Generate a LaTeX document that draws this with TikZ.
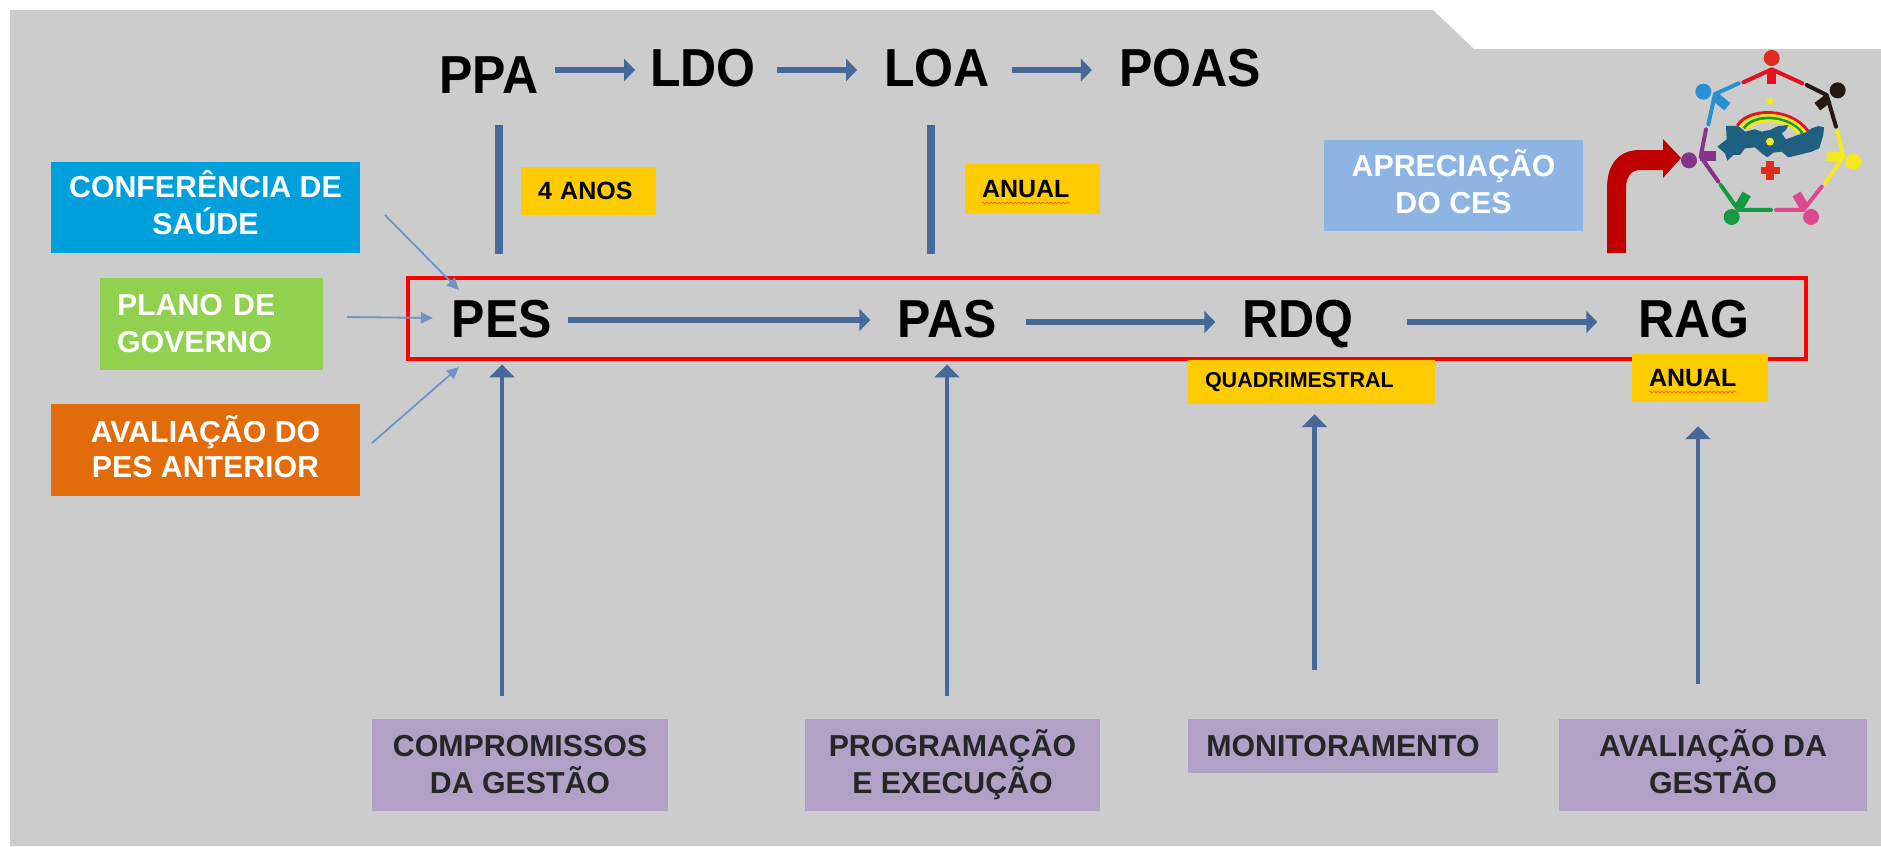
\documentclass[tikz,border=0pt]{standalone}
\usepackage{fontspec}
\usepackage{graphicx}
\setmainfont{Liberation Sans}
\usetikzlibrary{arrows.meta,shapes.geometric,decorations.pathmorphing}
\definecolor{bg}{HTML}{CCCCCC}
\definecolor{cblue}{HTML}{00A0DC}
\definecolor{cgreen}{HTML}{92D050}
\definecolor{corange}{HTML}{E36C0A}
\definecolor{cyellow}{HTML}{FFCC00}
\definecolor{cpurple}{HTML}{B2A1C7}
\definecolor{csky}{HTML}{8EB4E3}
\definecolor{flowc}{HTML}{46699A}
\definecolor{lightc}{HTML}{6F95C6}
\definecolor{dred}{HTML}{C00000}
\definecolor{mapc}{HTML}{1F5F7F}
\definecolor{lred}{HTML}{E8101F}
\definecolor{lheadred}{HTML}{E02B20}
\definecolor{lblack}{HTML}{231815}
\definecolor{lyellow}{HTML}{F5E81F}
\definecolor{lpink}{HTML}{DB4A8C}
\definecolor{lgreen}{HTML}{159A43}
\definecolor{lpurple}{HTML}{863488}
\definecolor{lblue}{HTML}{2A90D6}
\newcommand{\fsz}[1]{\fontsize{#1}{#1}\selectfont}
\newcommand{\boxfont}{\bfseries\fontsize{30.3}{37}\selectfont}
\newcommand{\boxfonttight}{\bfseries\fontsize{30.3}{35}\selectfont}
\newcommand{\tall}[1]{\scalebox{1}[1.07]{#1}}
\tikzset{
  x=1pt,y=-1pt,
  box/.style={draw=none,inner sep=0,align=center,font=\boxfont},
  whitebox/.style={box,text=white},
  sourcebox/.style={box,fill=cpurple,text=black!85},
  tagbox/.style={inner sep=0,fill=cyellow,text=black,align=left,font=\bfseries\fsz{25}},
  doc/.style={inner sep=0,text=black,font=\bfseries\fsz{50},text height=38.5pt,text depth=0pt},
  flow/.style={draw=flowc,line width=6pt,-{Triangle[length=11pt,width=22pt]}},
  upflow/.style={draw=flowc,line width=4.5pt,-{Triangle[length=13pt,width=25pt]}},
  link/.style={draw=flowc,line width=7.5pt},
  lightflow/.style={draw=lightc,line width=1.8pt,-{Triangle[length=12pt,width=11pt]}},
  limb/.style={line width=4pt,line cap=round,line join=round},
  trunk/.style={line width=9.5pt},
  squiggle/.style={red!70!orange,line width=.9pt,opacity=.6,decorate,decoration={snake,amplitude=.8pt,segment length=4pt}},
}
\begin{document}
\begin{tikzpicture}
\useasboundingbox (0,0) rectangle (1881,846);
\fill[white] (0,0) rectangle (1881,846);
\fill[bg] (10,10) -- (1433,10) -- (1474,49) -- (1881,49) -- (1881,846) -- (10,846) -- cycle;

% input boxes
\node[whitebox,fill=cblue,minimum width=309pt,minimum height=91pt,text depth=10pt] (conf) at (205.5,207.5) {CONFERÊNCIA DE\\SAÚDE};
\node[whitebox,fill=cgreen,minimum width=223pt,minimum height=92pt,align=left,text width=189pt] (plano) at (211.5,324) {PLANO DE\\GOVERNO};
\node[whitebox,fill=corange,minimum width=309pt,minimum height=92pt,font=\boxfonttight,text depth=6pt] (aval) at (205.5,450) {AVALIAÇÃO DO\\PES ANTERIOR};
\node[whitebox,fill=csky,minimum width=259pt,minimum height=91pt,text depth=8pt] (ces) at (1453.5,185.5) {APRECIAÇÃO\\DO CES};

% top row
\node[doc] (ppa) at (489,74) {\tall{PPA}};
\node[doc] (ldo) at (703,67) {\tall{LDO}};
\node[doc] (loa) at (937,67) {\tall{LOA}};
\node[doc] (poas) at (1190,67) {\tall{POAS}};
% main row
\node[doc] (pes) at (502,318) {\tall{PES}};
\node[doc] (pas) at (947,318) {\tall{PAS}};
\node[doc] (rdq) at (1298,318) {\tall{RDQ}};
\node[doc] (rag) at (1694,318) {\tall{RAG}};
\node[draw=red,line width=3.6pt,minimum width=1398pt,minimum height=81pt,inner sep=0] (frame) at (1107,318.5) {};

% tags
\node[tagbox,minimum width=135pt,minimum height=48pt,text width=101pt] (t4) at (588.5,191) {4 ANOS};
\node[tagbox,minimum width=135pt,minimum height=50pt,text width=101pt] (tan) at (1032.5,189) {ANUAL};
\node[tagbox,minimum width=247pt,minimum height=44pt,text width=213pt,font=\bfseries\fsz{21.5}] (tq) at (1311.5,382) {QUADRIMESTRAL};
\node[tagbox,minimum width=136pt,minimum height=48pt,text width=102pt] (tag) at (1700,378) {ANUAL};
\draw[squiggle] ([xshift=17pt,yshift=-14pt]tan.west) -- ([xshift=105pt,yshift=-14pt]tan.west);
\draw[squiggle] ([xshift=17pt,yshift=-14pt]tag.west) -- ([xshift=105pt,yshift=-14pt]tag.west);

% source boxes
\node[sourcebox,minimum width=296pt,minimum height=92pt,text depth=2pt] (comp) at (520,765) {COMPROMISSOS\\DA GESTÃO};
\node[sourcebox,minimum width=295pt,minimum height=92pt] (prog) at (952.5,765) {PROGRAMAÇÃO\\E EXECUÇÃO};
\node[sourcebox,minimum width=310pt,minimum height=54pt] (mon) at (1343,746) {MONITORAMENTO};
\node[sourcebox,minimum width=308pt,minimum height=92pt,text depth=7pt] (avg) at (1713,765) {AVALIAÇÃO DA\\GESTÃO};

% connectors, top row
\draw[flow,shorten <=16pt,shorten >=15pt] ([yshift=4pt]ppa.east) -- ([yshift=-3pt]ldo.west);
\draw[flow,shorten <=21pt,shorten >=27pt] ([yshift=-3pt]ldo.east) -- ([yshift=-3pt]loa.west);
\draw[flow,shorten <=22pt,shorten >=27pt] ([yshift=-3pt]loa.east) -- ([yshift=-3pt]poas.west);
% connectors, main row
\draw[flow,shorten <=16pt,shorten >=27pt] ([yshift=-2pt]pes.east) -- ([yshift=-2pt]pas.west);
\draw[flow,shorten <=29pt,shorten >=27pt] ([yshift=-4pt]pas.east) -- ([yshift=-4pt]rdq.west);
\draw[flow,shorten <=53pt,shorten >=41pt] ([yshift=-4pt]rdq.east) -- ([yshift=-4pt]rag.west);
% vertical links
\coordinate (lnk1a) at (499,125); \coordinate (lnk1b) at (499,254);
\coordinate (lnk2a) at (931,125); \coordinate (lnk2b) at (931,254);
\draw[link] (lnk1a) -- (lnk1b);
\draw[link] (lnk2a) -- (lnk2b);
% upward arrows
\draw[upflow,shorten <=23pt,shorten >=27pt] (pes.south |- comp.north) -- (pes.south);
\draw[upflow,shorten <=23pt,shorten >=27pt] (pas.south |- prog.north) -- (pas.south);
\draw[upflow,shorten <=49pt,shorten >=10pt] ([xshift=3pt]tq.south |- mon.north) -- ([xshift=3pt]tq.south);
\draw[upflow,shorten <=35pt,shorten >=24pt] ([xshift=-2pt]tag.south |- avg.north) -- ([xshift=-2pt]tag.south);
% thin inputs
\coordinate (i1) at (385,215); \coordinate (o1) at (459,290);
\coordinate (i2) at (347,317); \coordinate (o2) at (433,318);
\coordinate (i3) at (372,443); \coordinate (o3) at (459,367);
\draw[lightflow] (i1) -- (o1);
\draw[lightflow] (i2) -- (o2);
\draw[lightflow] (i3) -- (o3);

% bent arrow
\fill[dred] (1607,253) -- (1607,188) .. controls (1607,165) and (1618,150) .. (1640,150) -- (1663,150)
  -- (1663,139) -- (1681,158) -- (1663,178) -- (1663,170) -- (1640,170) .. controls (1632,170) and (1626,176) .. (1626,188) -- (1626,253) -- cycle;

% logo
\begin{scope}[shift={(1680,40)},x=.3333pt,y=-.3333pt]
  \draw[lred,line width=3pt] (172,257) .. controls (205,202) and (335,202) .. (385,275);
  \draw[lyellow,line width=3pt] (182,262) .. controls (212,212) and (330,212) .. (376,278);
  \draw[lgreen,line width=3pt] (192,265) .. controls (220,222) and (322,222) .. (367,280);
  \draw[lyellow,line width=3pt] (200,268) .. controls (228,232) and (315,232) .. (358,280);
  \fill[mapc] (112,320) -- (140,298) -- (138,258) -- (175,258) -- (195,275) -- (225,268) -- (245,275) -- (270,270) -- (295,258) -- (325,255) -- (318,270) -- (305,280) -- (318,298) -- (345,288) -- (375,278) -- (395,265) -- (415,258) -- (432,262) -- (430,285) -- (418,325) -- (395,335) -- (355,345) -- (325,352) -- (305,335) -- (280,338) -- (262,352) -- (245,340) -- (225,322) -- (195,325) -- (180,345) -- (160,345) -- (142,362) -- (135,340) -- cycle;
  \fill[lyellow] (270,305) circle [radius=12];
  \node[star,star points=5,star point ratio=2.3,fill=lyellow,inner sep=0,minimum size=11pt] (estrela) at (270,184) {};
  \fill[lheadred] (243,380) rectangle (300,403);
  \fill[lheadred] (258,363) rectangle (282,420);
  % red
  \fill[lheadred] (275,54) circle [radius=24];
  \draw[limb,lred] (190,127) -- (275,88) -- (367,130);
  \draw[trunk,lred] (275,88) -- (275,132);
  % black
  \fill[lblack] (473,151) circle [radius=24];
  \draw[limb,lblack] (380,135) -- (440,165) -- (468,260);
  \draw[trunk,lblack] (445,175) -- (412,200);
  % yellow
  \fill[lyellow] (520,365) circle [radius=24];
  \draw[limb,lyellow] (472,272) -- (490,350) -- (435,430);
  \draw[trunk,lyellow] (485,350) -- (440,348);
  % pink
  \fill[lpink] (393,531) circle [radius=24];
  \draw[limb,lpink] (425,440) -- (370,510) -- (288,510);
  \draw[trunk,lpink] (375,505) -- (350,462);
  % green
  \fill[lgreen] (155,531) circle [radius=24];
  \draw[limb,lgreen] (273,510) -- (175,510) -- (122,435);
  \draw[trunk,lgreen] (175,505) -- (200,462);
  % purple
  \fill[lpurple] (27,361) circle [radius=24];
  \draw[limb,lpurple] (115,425) -- (62,350) -- (78,268);
  \draw[trunk,lpurple] (60,348) -- (108,348);
  % blue
  \fill[lblue] (70,155) circle [radius=24];
  \draw[limb,lblue] (85,253) -- (105,162) -- (176,130);
  \draw[trunk,lblue] (105,170) -- (142,200);
\end{scope}
\end{tikzpicture}
\end{document}
